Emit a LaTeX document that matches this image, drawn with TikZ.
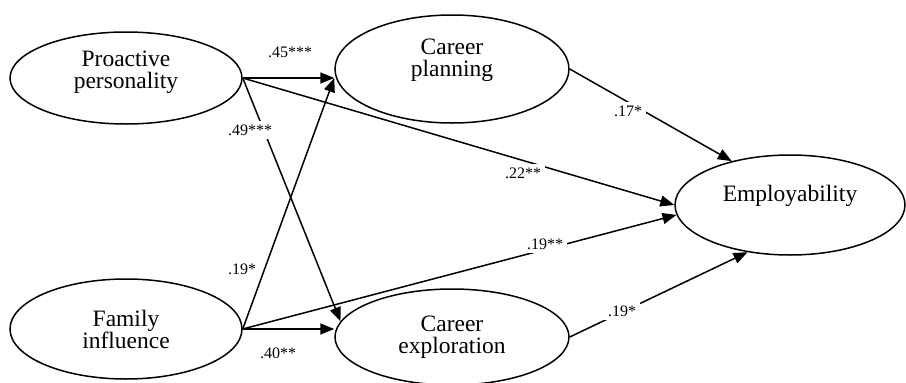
\documentclass[tikz,border=0pt]{standalone}
\usepackage{fontspec}
\setmainfont{Liberation Serif}
\usetikzlibrary{shapes.geometric,arrows.meta}
\begin{document}
\begin{tikzpicture}[x=1pt,y=-1pt,
  lat/.style={ellipse,draw,line width=1.5pt,inner sep=0pt},
  lattext/.style={align=center,font=\fontsize{23.5}{22}\selectfont},
  pathar/.style={line width=1.5pt,-{Triangle[length=14pt,width=11pt]}},
  coef/.style={fill=white,inner sep=4pt,font=\fontsize{16}{16}\selectfont}]
\clip (0,0) rectangle (906,383);
\node[lat,minimum width=232pt,minimum height=92pt,
  label={[lattext,yshift=6pt]center:Proactive\\personality}] (pp) at (126,78) {};
\node[lat,minimum width=232pt,minimum height=100pt,
  label={[lattext]center:Family\\influence}] (fi) at (126,329) {};
\node[lat,minimum width=234pt,minimum height=108pt,
  label={[lattext,yshift=9pt]center:Career\\planning}] (cp) at (452,69) {};
\node[lat,minimum width=234pt,minimum height=96pt,
  label={[lattext]center:Career\\exploration}] (ce) at (452,337) {};
\node[lat,minimum width=230pt,minimum height=100pt,
  label={[lattext,yshift=9pt]center:Employability}] (emp) at (790,205) {};
% paths
\draw[pathar] (pp.east) -- (pp.east -| cp.west);
\draw[pathar] (pp.east) -- (ce.172);
\draw[pathar] (pp.east) -- (emp.180);
\draw[pathar] (fi.east) -- (pp.east -| cp.west);
\draw[pathar] (fi.east) -- (fi.east -| ce.west);
\draw[pathar] (fi.east) -- (emp.185);
\draw[pathar] (cp.east) -- (emp.143);
\draw[pathar] (ce.east) -- (emp.228);
% coefficients
\node[coef] (c1) at (290,52) {.45***};
\node[coef] (c2) at (250,130) {.49***};
\node[coef] (c3) at (523,173) {.22**};
\node[coef] (c4) at (242,269) {.19*};
\node[coef] (c5) at (278,353) {.40**};
\node[coef] (c6) at (545,244) {.19**};
\node[coef] (c7) at (628,111) {.17*};
\node[coef] (c8) at (622,311) {.19*};
\end{tikzpicture}
\end{document}
